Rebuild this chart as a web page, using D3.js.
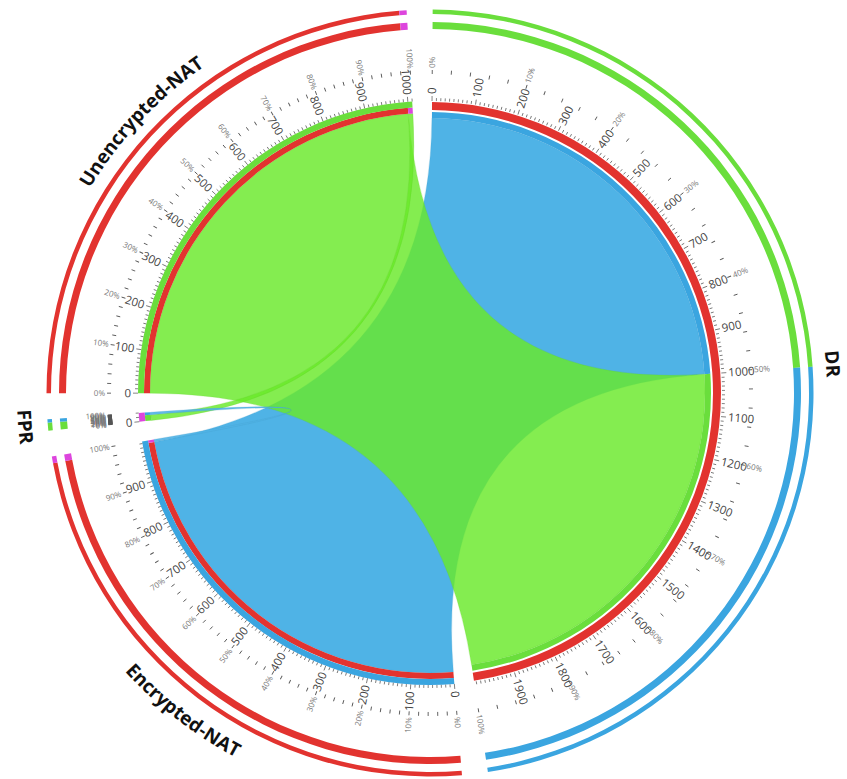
<!DOCTYPE html>
<html>
<head>
<meta charset="utf-8">
<script src="https://cdn.jsdelivr.net/npm/d3@7"></script>
<style>
  body { margin: 0; background: #fff; }
  svg { display: block; }
</style>
</head>
<body>
<svg id="chart" width="847" height="779"></svg>
<script>
// ---- data ----
const sectorNames  = ["DR", "Encrypted-NAT", "FPR", "Unencrypted-NAT"];
const sectorTotals = [1995, 995, 20, 1010];
const sectorColors = ["#e2332f", "#3aa5e0", "#dd45dd", "#6ade3c"];

// inner band: which partner each stretch of a sector is linked with
const innerBands = [
  { sector: "DR", from: 0, to: 1000, color: "#3aa5e0" },
  { sector: "DR", from: 1000, to: 1995, color: "#6ade3c" },
  { sector: "Encrypted-NAT", from: 0, to: 989, color: "#e2332f" },
  { sector: "Encrypted-NAT", from: 989, to: 995, color: "#dd45dd" },
  { sector: "FPR", from: 0, to: 14, color: "#6ade3c" },
  { sector: "FPR", from: 14, to: 20, color: "#3aa5e0" },
  { sector: "Unencrypted-NAT", from: 0, to: 999, color: "#e2332f" },
  { sector: "Unencrypted-NAT", from: 999, to: 1010, color: "#dd45dd" }
];

// two outer summary rings
const outerBands = [
  { sector: "DR", from: 0, to: 1000, color: "#6ade3c" },
  { sector: "DR", from: 1000, to: 1995, color: "#3aa5e0" },
  { sector: "Encrypted-NAT", from: 0, to: 983, color: "#e2332f" },
  { sector: "Encrypted-NAT", from: 983, to: 995, color: "#dd45dd" },
  { sector: "FPR", from: 0, to: 14, color: "#6ade3c" },
  { sector: "FPR", from: 14, to: 20, color: "#3aa5e0" },
  { sector: "Unencrypted-NAT", from: 0, to: 997, color: "#e2332f" },
  { sector: "Unencrypted-NAT", from: 997, to: 1010, color: "#dd45dd" }
];

const links = [
  { from: "DR", f0: 0, f1: 1000, to: "Encrypted-NAT", t0: 0, t1: 989, fill: "rgb(79,179,230)", opacity: 1 },
  { from: "Unencrypted-NAT", f0: 0, f1: 999, to: "DR", t0: 1000, t1: 1995, fill: "rgb(105,233,41)", opacity: 0.82 },
  { from: "Unencrypted-NAT", f0: 999, f1: 1010, to: "FPR", t0: 0, t1: 14, fill: "rgb(105,233,41)", opacity: 0.82 },
  { from: "Encrypted-NAT", f0: 989, f1: 995, to: "FPR", t0: 14, t1: 20, fill: "rgb(79,179,230)", opacity: 0.9 }
];

const numberStep = 100, minorStep = 10;
const percentLabels = [0, 10, 20, 30, 40, 50, 60, 70, 80, 90, 100];
const percentTickStep = 2;

// ---- layout ----
const cx = 430, cy = 393;
const startDeg = 0.4, gapDeg = 3.9;
const grand = d3.sum(sectorTotals);
const unitDeg = (360 - gapDeg * sectorNames.length) / grand;

const sectorStart = {};
let acc = startDeg;
sectorNames.forEach((n, i) => {
  sectorStart[n] = acc;
  acc += sectorTotals[i] * unitDeg + gapDeg;
});
const total = n => sectorTotals[sectorNames.indexOf(n)];
// scale: position within a sector -> degrees clockwise from 12 o'clock
const angleScale = n => d3.scaleLinear().domain([0, total(n)])
  .range([sectorStart[n], sectorStart[n] + total(n) * unitDeg]);
const rad = d => d * Math.PI / 180;

const flipped = { "DR": false, "Encrypted-NAT": true, "FPR": true, "Unencrypted-NAT": true };
const chordR = n => n === "DR" ? 275 : 280;
const innerR = n => n === "DR" ? [275, 281] : [280, 286];
const ownR   = n => n === "DR" ? [283, 291] : [286, 292];

const svg = d3.select("#chart");
const g = svg.append("g").attr("transform", `translate(${cx},${cy})`);
const arc = d3.arc();

// ---- chords ----
const ribbon = d3.ribbon();   // reads .radius from each end

g.append("g").selectAll("path").data(links).join("path")
  .attr("d", d => {
    const s = angleScale(d.from), t = angleScale(d.to);
    return ribbon({
      source: { startAngle: rad(s(d.f0)), endAngle: rad(s(d.f1)), radius: chordR(d.from) },
      target: { startAngle: rad(t(d.t0)), endAngle: rad(t(d.t1)), radius: chordR(d.to) }
    });
  })
  .attr("fill", d => d.fill)
  .attr("fill-opacity", d => d.opacity)
  .attr("stroke", d => d3.color(d.fill).darker(0.4))
  .attr("stroke-opacity", 0.35)
  .attr("stroke-width", 0.6);

// ---- bands ----
g.append("g").selectAll("path").data(innerBands).join("path")
  .attr("d", d => {
    const s = angleScale(d.sector), r = innerR(d.sector);
    return arc({ innerRadius: r[0], outerRadius: r[1], startAngle: rad(s(d.from)), endAngle: rad(s(d.to)) });
  })
  .attr("fill", d => d.color);

g.append("g").selectAll("path").data(sectorNames).join("path")
  .attr("d", n => {
    const s = angleScale(n), r = ownR(n);
    return arc({ innerRadius: r[0], outerRadius: r[1], startAngle: rad(s(0)), endAngle: rad(s(total(n))) });
  })
  .attr("fill", (n, i) => sectorColors[i]);

[[364, 371], [379, 383.5]].forEach(r => {
  g.append("g").selectAll("path").data(outerBands).join("path")
    .attr("d", d => {
      const s = angleScale(d.sector);
      return arc({ innerRadius: r[0], outerRadius: r[1], startAngle: rad(s(d.from)), endAngle: rad(s(d.to)) });
    })
    .attr("fill", d => d.color);
});

// ---- axes ----
const axes = g.append("g");
sectorNames.forEach(n => {
  const s = angleScale(n), T = total(n), flip = flipped[n];
  const ax = axes.append("g");

  // minor + major ticks on the band edge
  d3.range(0, T + 0.001, minorStep).forEach(v => {
    const major = v % numberStep === 0;
    ax.append("line")
      .attr("transform", `rotate(${s(v) - 90})`)
      .attr("x1", 292).attr("x2", major ? 297 : 295)
      .attr("stroke", "#666").attr("stroke-width", 0.8);
  });

  // value labels
  d3.range(0, T + 0.001, numberStep).forEach(v => {
    ax.append("text")
      .attr("transform", `rotate(${s(v) - 90}) translate(299,0)` + (flip ? " rotate(180)" : ""))
      .attr("text-anchor", flip ? "end" : "start")
      .attr("dy", "0.35em")
      .attr("font-family", "Open Sans, sans-serif")
      .attr("font-size", 11.5)
      .attr("fill", "#444")
      .text(v);
  });

  // percentage ticks and labels
  const p = d3.scaleLinear().domain([0, 100]).range([0, T]);
  d3.range(0, 100.001, percentTickStep).forEach(q => {
    ax.append("line")
      .attr("transform", `rotate(${s(p(q)) - 90})`)
      .attr("x1", 319).attr("x2", 323)
      .attr("stroke", "#555").attr("stroke-width", 0.9);
  });
  percentLabels.forEach(q => {
    ax.append("text")
      .attr("transform", `rotate(${s(p(q)) - 90}) translate(325,0)` + (flip ? " rotate(180)" : ""))
      .attr("text-anchor", flip ? "end" : "start")
      .attr("dy", "0.35em")
      .attr("font-family", "Open Sans, sans-serif")
      .attr("font-size", 8)
      .attr("fill", "#777")
      .text(q + "%");
  });
});

// ---- sector names along the outer circle ----
const defs = svg.append("defs");
sectorNames.forEach((n, i) => {
  const s = angleScale(n);
  const mid = s(total(n) / 2);
  const lower = mid > 90 && mid < 270;
  const r = lower ? 413 : 397;
  const span = 60;
  const p = d3.path();
  const a0 = rad(mid - span - 90), a1 = rad(mid + span - 90);
  if (lower) {
    p.moveTo(r * Math.cos(a1), r * Math.sin(a1));
    p.arc(0, 0, r, a1, a0, true);
  } else {
    p.moveTo(r * Math.cos(a0), r * Math.sin(a0));
    p.arc(0, 0, r, a0, a1, false);
  }
  defs.append("path").attr("id", "name-path-" + i)
    .attr("transform", `translate(${cx},${cy})`)
    .attr("d", p.toString());
  svg.append("text")
    .attr("font-family", "Open Sans, sans-serif")
    .attr("font-weight", 700)
    .attr("font-size", 19)
    .attr("fill", "#111")
    .append("textPath")
    .attr("href", "#name-path-" + i)
    .attr("startOffset", "50%")
    .attr("text-anchor", "middle")
    .text(n);
});
</script>
</body>
</html>
